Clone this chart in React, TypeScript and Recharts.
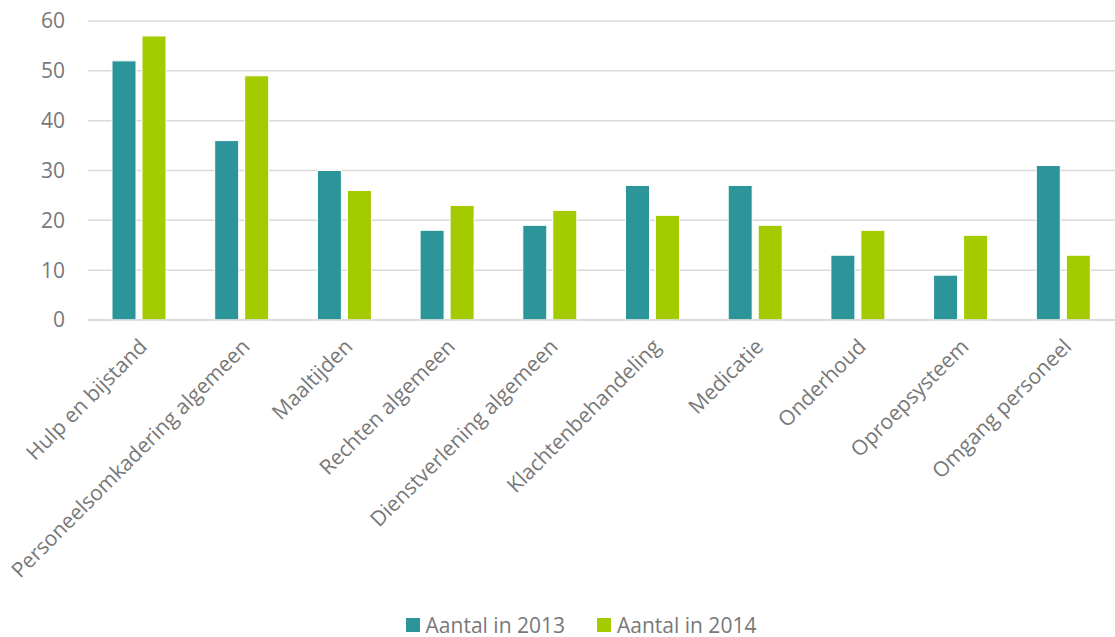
import { BarChart, Bar, XAxis, YAxis, CartesianGrid, Legend } from 'recharts';

const CATEGORIES = [
  'Hulp en bijstand',
  'Personeelsomkadering algemeen',
  'Maaltijden',
  'Rechten algemeen',
  'Dienstverlening algemeen',
  'Klachtenbehandeling',
  'Medicatie',
  'Onderhoud',
  'Oproepsysteem',
  'Omgang personeel',
];
const COUNT_2013 = [52, 36, 30, 18, 19, 27, 27, 13, 9, 31];
const COUNT_2014 = [57, 49, 26, 23, 22, 21, 19, 18, 17, 13];
const Y_TICKS = [0, 10, 20, 30, 40, 50, 60];

const TEAL = '#2b959a';
const GREEN = '#a4cb00';
const TEXT = '#787878';
const FONT = '"Open Sans", "DejaVu Sans", sans-serif';

const data = CATEGORIES.map((name, i) => ({
  name,
  y2013: COUNT_2013[i],
  y2014: COUNT_2014[i],
}));

function AngledTick({ x, y, payload }: { x?: number; y?: number; payload?: { value: string } }) {
  return (
    <g transform={`translate(${(x ?? 0) + 9},${(y ?? 0) + 20})`}>
      <text
        textAnchor="end"
        transform="rotate(-45)"
        fill={TEXT}
        fontSize={21}
        fontFamily={FONT}
      >
        {payload?.value}
      </text>
    </g>
  );
}

function LegendBox() {
  const items = [
    { label: 'Aantal in 2013', color: TEAL },
    { label: 'Aantal in 2014', color: GREEN },
  ];
  return (
    <div style={{ display: 'flex', justifyContent: 'center', height: 24, lineHeight: '24px', paddingLeft: 47, fontFamily: FONT, fontSize: 21, color: TEXT }}>
      {items.map((it, i) => (
        <div key={it.label} style={{ display: 'flex', alignItems: 'center', marginLeft: i ? 32 : 0 }}>
          <span style={{ width: 14, height: 14, background: it.color, display: 'inline-block', marginRight: 6 }} />
          {it.label}
        </div>
      ))}
    </div>
  );
}

export default function App() {
  return (
    <div style={{ position: 'absolute', left: 0, top: 0, background: '#fff' }}>
      <BarChart
        width={1115}
        height={637}
        data={data}
        margin={{ top: 21, right: 0, left: 0, bottom: 0 }}
        barGap={6}
      >
        <CartesianGrid vertical={false} stroke="#d9d9d9" strokeWidth={1.5} />
        <XAxis
          dataKey="name"
          interval={0}
          tick={<AngledTick />}
          tickLine={false}
          axisLine={{ stroke: '#d9d9d9', strokeWidth: 1.5 }}
          height={293}
        />
        <YAxis
          domain={[0, 60]}
          ticks={Y_TICKS}
          width={88}
          axisLine={false}
          tickLine={false}
          tickSize={0}
          tickMargin={23}
          tick={{ fill: TEXT, fontSize: 21, fontFamily: FONT }}
        />
        <Legend verticalAlign="bottom" content={<LegendBox />} />
        <Bar dataKey="y2013" fill={TEAL} stroke="#fff" strokeWidth={1} barSize={24} isAnimationActive={false} />
        <Bar dataKey="y2014" fill={GREEN} stroke="#fff" strokeWidth={1} barSize={24} isAnimationActive={false} />
      </BarChart>
    </div>
  );
}
